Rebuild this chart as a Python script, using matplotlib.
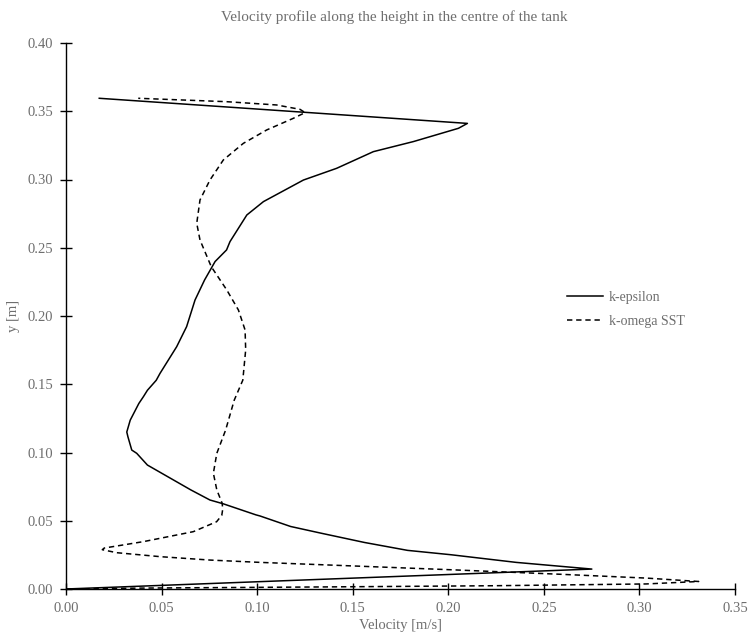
"""Velocity profile along the tank height: k-epsilon vs k-omega SST."""
import matplotlib
matplotlib.use("Agg")
import matplotlib.pyplot as plt

# k-epsilon (solid): velocity [m/s], height [m], ordered along the curve
eps_v = [0.000, 0.2751, 0.2355, 0.2014, 0.1787, 0.1561, 0.1334, 0.1175, 0.1015,
         0.0994, 0.0823, 0.0753, 0.0653, 0.0517, 0.0426, 0.0370, 0.0344, 0.0324,
         0.0318, 0.0336, 0.0381, 0.0405, 0.0426, 0.0472, 0.0492, 0.0579, 0.0631,
         0.0675, 0.0725, 0.0780, 0.0840, 0.0858, 0.0946, 0.1033, 0.1242, 0.1416,
         0.1608, 0.1818, 0.2053, 0.2100, 0.0174]
eps_y = [0.000, 0.0146, 0.0195, 0.0251, 0.0283, 0.0341, 0.0409, 0.0458, 0.0535,
         0.0543, 0.0624, 0.0652, 0.0726, 0.0835, 0.0908, 0.0994, 0.1018, 0.1115,
         0.1150, 0.1237, 0.1359, 0.1409, 0.1456, 0.1529, 0.1580, 0.1775, 0.1922,
         0.2117, 0.2264, 0.2399, 0.2484, 0.2545, 0.2740, 0.2838, 0.2996, 0.3082,
         0.3204, 0.3278, 0.3375, 0.3411, 0.3595]

# k-omega SST (dashed)
sst_v = [0.000, 0.0426, 0.1334, 0.2241, 0.3035, 0.3310, 0.3035, 0.2585, 0.2014,
         0.1334, 0.1015, 0.0753, 0.0492, 0.0265, 0.0190, 0.0200, 0.0405, 0.0666,
         0.0788, 0.0815, 0.0820, 0.0817, 0.0789, 0.0771, 0.0789, 0.0835, 0.0880,
         0.0925, 0.0940, 0.0937, 0.0902, 0.0841, 0.0760, 0.0701, 0.0684, 0.0701,
         0.0753, 0.0823, 0.0928, 0.1050, 0.1189, 0.1251, 0.1224, 0.1102, 0.0841,
         0.0378]
sst_y = [0.000, 0.0007, 0.0015, 0.0024, 0.0037, 0.0055, 0.0080, 0.0108, 0.0141,
         0.0178, 0.0195, 0.0212, 0.0237, 0.0266, 0.0288, 0.0300, 0.0347, 0.0420,
         0.0493, 0.0540, 0.0585, 0.0628, 0.0726, 0.0848, 0.0994, 0.1164, 0.1383,
         0.1530, 0.1751, 0.1897, 0.2044, 0.2191, 0.2361, 0.2557, 0.2679, 0.2850,
         0.2996, 0.3143, 0.3265, 0.3363, 0.3448, 0.3490, 0.3514, 0.3546, 0.3570,
         0.3595]

x_ticks = [0.00, 0.05, 0.10, 0.15, 0.20, 0.25, 0.30, 0.35]
y_ticks = [0.00, 0.05, 0.10, 0.15, 0.20, 0.25, 0.30, 0.35, 0.40]

TXT = "#6e6e6e"
plt.rcParams["font.family"] = ["Liberation Serif", "DejaVu Serif"]

fig = plt.figure(figsize=(7.49, 6.40), dpi=100)
ax = fig.add_axes([66 / 749, 51 / 640, 669 / 749, 546 / 640])

ax.plot(eps_v, eps_y, color="black", lw=1.1, label="k-epsilon")
ax.plot(sst_v, sst_y, color="black", lw=1.1, linestyle=(0, (3.5, 2.5)),
        label="k-omega SST")

ax.set_xlim(0, 0.35)
ax.set_ylim(0, 0.40)
ax.set_xticks(x_ticks)
ax.set_yticks(y_ticks)
ax.set_xticklabels([f"{t:.2f}" for t in x_ticks])
ax.set_yticklabels([f"{t:.2f}" for t in y_ticks])
ax.tick_params(direction="inout", length=9, width=1, colors="black",
               labelcolor=TXT, labelsize=10.5, pad=5)

for side in ("top", "right"):
    ax.spines[side].set_visible(False)
for side in ("left", "bottom"):
    ax.spines[side].set_linewidth(1.0)

ax.set_xlabel("Velocity [m/s]", color=TXT, fontsize=10.5, labelpad=3)
ax.set_ylabel("y [m]", color=TXT, fontsize=10.5, labelpad=5)
fig.text(0.527, 0.973, "Velocity profile along the height in the centre of the tank",
         ha="center", va="center", color=TXT, fontsize=11)

leg = ax.legend(loc="center left", bbox_to_anchor=(0.741, 0.512), frameon=False,
                fontsize=10, handlelength=2.6, handletextpad=0.4,
                labelspacing=0.8, borderaxespad=0)
for t in leg.get_texts():
    t.set_color(TXT)

fig.savefig("out.png", dpi=100)
